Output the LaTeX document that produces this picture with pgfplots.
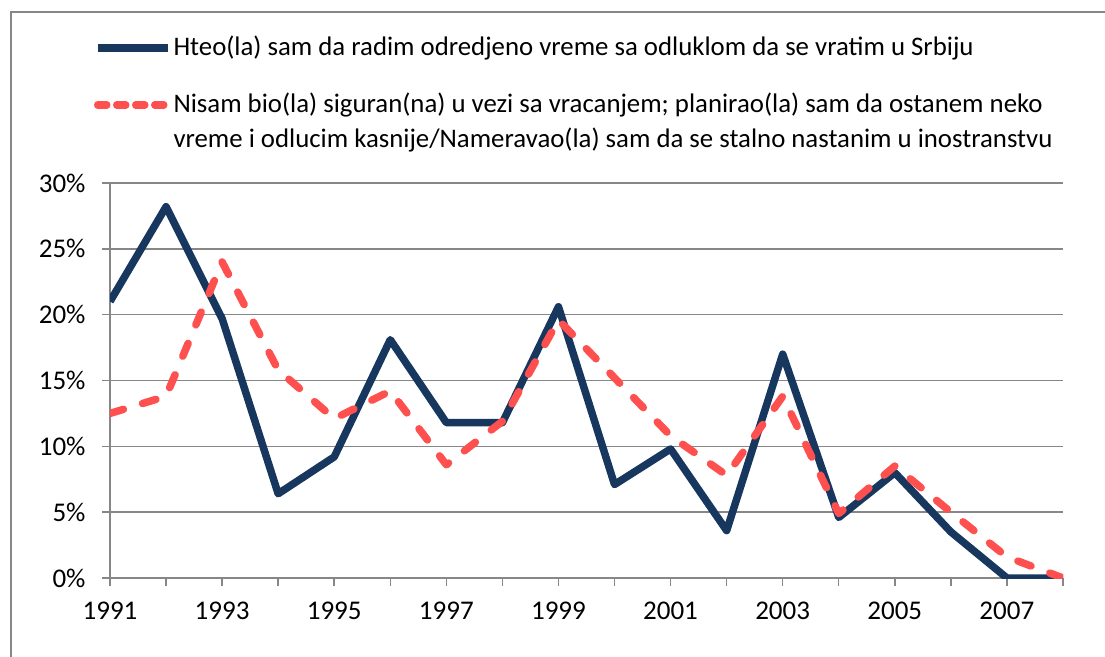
\documentclass[border=0pt]{standalone}
\usepackage{pgfplots}
\pgfplotsset{compat=1.18}
\usepackage{fontspec}
\setmainfont{Carlito}
\definecolor{navy}{HTML}{17375E}
\definecolor{salmon}{HTML}{FF5050}
\definecolor{gridgray}{HTML}{878787}
\pgfplotsset{
  navylegend/.style={legend image code/.code={\draw[##1] (0pt,8pt) -- (70pt,8pt);}},
  redlegend/.style={legend image code/.code={\draw[##1, dash pattern=on 9pt off 10pt] (0pt,43pt) -- (70pt,43pt);}},
}
\begin{document}
\begin{tikzpicture}
\path[use as bounding box] (0pt,0pt) rectangle (1105pt,-656pt);
\draw[gridgray, line width=2pt] (11pt,-700pt) -- (11pt,-12pt) -- (1150pt,-12pt);
\begin{axis}[
  at={(110pt,-578pt)}, anchor=south west,
  scale only axis, width=953pt, height=395pt,
  xmin=1991, xmax=2008, ymin=0, ymax=30,
  axis x line*=bottom, axis y line*=left,
  axis line style={gridgray, line width=1.5pt, -},
  ymajorgrids, grid style={gridgray, line width=1.5pt},
  xtick={1991,...,2008},
  xticklabels={1991,,1993,,1995,,1997,,1999,,2001,,2003,,2005,,2007,},
  ytick={0,5,...,30},
  yticklabels={0\%,5\%,10\%,15\%,20\%,25\%,30\%},
  tick align=outside, major tick length=8pt,
  tick style={gridgray, line width=1.5pt},
  ticklabel style={font=\fontsize{27}{32}\selectfont},
  xticklabel style={yshift=-12pt},
  yticklabel style={xshift=-13pt},
  /pgf/number format/assume math mode=true,
  legend style={at={(-0.017,1.372)}, anchor=north west, draw=none, fill=none,
    inner sep=0pt, row sep=36pt, column sep=2pt,
    nodes={anchor=base west, align=left, inner sep=0pt, font=\fontsize{26.8}{35}\selectfont},
    cells={anchor=base west}},
]
\addplot[navy, line width=7.5pt, line join=round, navylegend] coordinates {
(1991,21.0)(1992,28.2)(1993,19.7)(1994,6.4)(1995,9.2)(1996,18.1)(1997,11.8)(1998,11.8)(1999,20.6)(2000,7.1)(2001,9.8)(2002,3.6)(2003,17.0)(2004,4.6)(2005,8.0)(2006,3.5)(2007,0)(2008,0)};
\addlegendentry{Hteo(la) sam da radim odredjeno vreme sa odluklom da se vratim u Srbiju}
\addplot[salmon, line width=7.5pt, line cap=round, line join=round, dash pattern=on 14pt off 20pt, redlegend] coordinates {
(1991,12.5)(1992,13.8)(1993,24.0)(1994,15.8)(1995,12.1)(1996,14.2)(1997,8.6)(1998,11.9)(1999,19.6)(2000,15.2)(2001,10.8)(2002,7.8)(2003,13.8)(2004,4.9)(2005,8.5)(2006,5.0)(2007,1.6)(2008,0)};
\addlegendentry{Nisam bio(la) siguran(na) u vezi sa vracanjem; planirao(la) sam da ostanem neko\\vreme i odlucim kasnije/Nameravao(la) sam da se stalno nastanim u inostranstvu}
\end{axis}
\end{tikzpicture}
\end{document}
